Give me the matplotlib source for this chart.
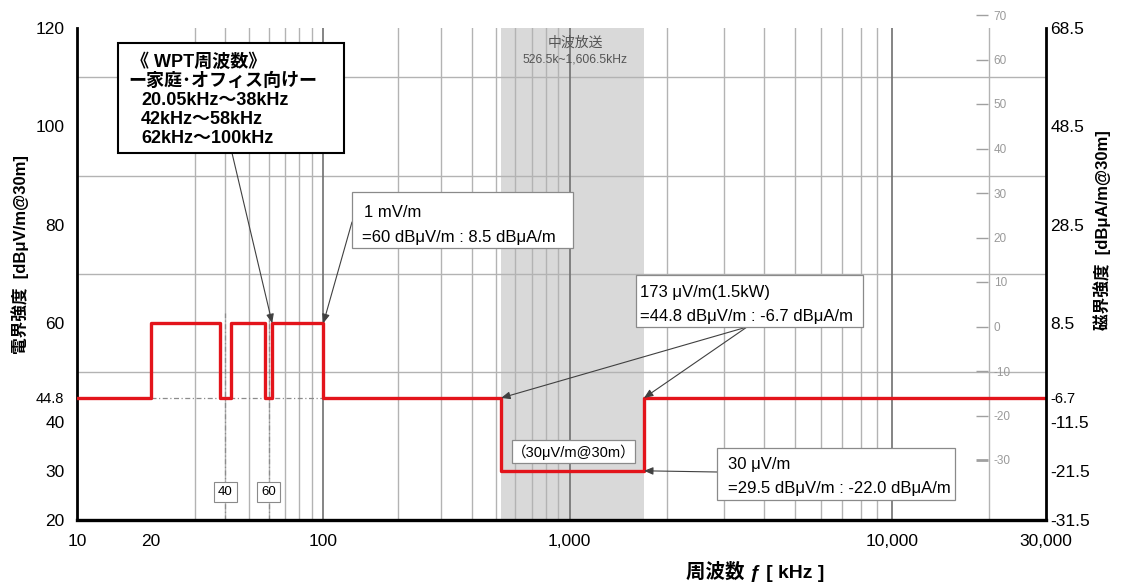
import numpy as np
import matplotlib
matplotlib.use("Agg")
import matplotlib.pyplot as plt
import matplotlib.transforms as mtransforms
from matplotlib.ticker import FixedLocator, FixedFormatter, NullFormatter
from matplotlib.patches import Rectangle

plt.rcParams['font.family'] = ['Liberation Sans', 'Noto Sans CJK JP']

# ---------------- data ----------------
step_edges_khz = [10, 20.05, 38, 42, 58, 62, 100, 526.5, 1700, 30000]
step_levels_db = [44.8, 60, 44.8, 60, 44.8, 60, 44.8, 30, 44.8, 44.8]
mw_band_khz = [526.5, 1700]
ref_level_db = 44.8
ref_span_khz = [20, 100]
wpt_marker_khz = [40, 60]
wpt_marker_labels = ['40', '60']
wpt_marker_top_db = 62
x_ticks = [10, 20, 100, 1000, 10000, 30000]
x_tick_labels = ['10', '20', '100', '1,000', '10,000', '30,000']
decade_lines = [100, 1000, 10000]
y_left_ticks = [20, 30, 40, 44.8, 60, 80, 100, 120]
y_left_labels = ['20', '30', '40', '44.8', '60', '80', '100', '120']
y_grid = list(range(20, 121, 10))
h_offset_db = 51.5  # dBuV/m -> dBuA/m
y_right_ticks = [-31.5, -21.5, -11.5, -6.7, 8.5, 28.5, 48.5, 68.5]
y_right_labels = ['-31.5', '-21.5', '-11.5', '-6.7', '8.5', '28.5', '48.5', '68.5']
aux_ticks = [-30, -20, -10, 0, 10, 20, 30, 40, 50, 60, 70]
aux_labels = [str(v) for v in aux_ticks]

wpt_target = (62, 60)
mv_target = (100, 60)
l173_targets = [(526.5, 44.8), (1700, 44.8)]
l30_target = (1700, 30)

wpt_lines = ['《 WPT周波数》', 'ー家庭･オフィス向けー', '20.05kHz～38kHz', '42kHz～58kHz', '62kHz～100kHz']
mv_lines = ['1 mV/m', '=60 dBμV/m : 8.5 dBμA/m']
l173_lines = ['173 μV/m(1.5kW)', '=44.8 dBμV/m : -6.7 dBμA/m']
l30_lines = ['30 μV/m', '=29.5 dBμV/m : -22.0 dBμA/m']
l30m_text = '（30μV/m@30m）'
mw_title = '中波放送'
mw_range = '526.5k~1,606.5kHz'

# ---------------- figure ----------------
W, H = 1132, 586
L, R, T, B = 77, 1046, 28, 520
fig = plt.figure(figsize=(W / 100, H / 100), dpi=100)
ax = fig.add_axes([L / W, 1 - B / H, (R - L) / W, (B - T) / H])

K = 322 / 246  # the reference stretches the decades above 1 MHz


def fwd(x):
    x = np.asarray(x, dtype=float)
    u = np.log10(np.where(x > 0, x, 1e-300))
    return np.where(u <= 3, u, 3 + (u - 3) * K)


def inv(t):
    t = np.asarray(t, dtype=float)
    return np.where(t <= 3, 10.0 ** t, 10.0 ** (3 + (t - 3) / K))


ax.set_xscale('function', functions=(fwd, inv))
ax.set_xlim(10, 30000)
ax.set_ylim(20, 120)

minor_x = [m * 10 ** d for d in range(1, 5) for m in range(1, 10)
           if 10 < m * 10 ** d < 30000 and m * 10 ** d not in decade_lines]
ax.xaxis.set_major_locator(FixedLocator(x_ticks))
ax.xaxis.set_major_formatter(FixedFormatter(x_tick_labels))
ax.xaxis.set_minor_locator(FixedLocator(minor_x))
ax.xaxis.set_minor_formatter(NullFormatter())
ax.yaxis.set_major_locator(FixedLocator(y_left_ticks))
ax.yaxis.set_major_formatter(FixedFormatter(y_left_labels))
ax.yaxis.set_minor_locator(FixedLocator(y_grid))
ax.yaxis.set_minor_formatter(NullFormatter())
ax.set_axisbelow(True)
ax.grid(False, which='major')
ax.grid(True, which='minor', color='#b3b3b3', lw=1.0)
for d in decade_lines:
    ax.axvline(d, color='#707070', lw=1.2, zorder=0.6)

ax.tick_params(which='both', length=0)
ax.tick_params(axis='x', which='major', labelsize=12.5, pad=10)
ax.tick_params(axis='y', which='major', labelsize=12.5, pad=9)
ax.yaxis.get_major_ticks()[3].label1.set_fontsize(10.5)

for s in ['top', 'right']:
    ax.spines[s].set_visible(False)
ax.spines['left'].set_linewidth(2)
ax.spines['bottom'].set_linewidth(2.4)

# right axis (magnetic field)
ax_r = ax.twinx()
ax_r.set_ylim(20 - h_offset_db, 120 - h_offset_db)
ax_r.yaxis.set_major_locator(FixedLocator(y_right_ticks))
ax_r.yaxis.set_major_formatter(FixedFormatter(y_right_labels))
ax_r.tick_params(length=0, labelsize=12.5, pad=3)
ax_r.yaxis.get_major_ticks()[3].label2.set_fontsize(10.5)
for s in ['top', 'left', 'bottom']:
    ax_r.spines[s].set_visible(False)
ax_r.spines['right'].set_linewidth(2)

# MW band shading
ax.axvspan(*mw_band_khz, color='#d9d9d9', lw=0, zorder=0.2)

# reference dash-dot lines
dd = (0, (4, 2, 1, 2))
ax.hlines(ref_level_db, *ref_span_khz, colors='#8c8c8c', linestyles=dd, lw=0.9, zorder=1)
ax.vlines(wpt_marker_khz, 20, wpt_marker_top_db, colors='#8c8c8c', linestyles=dd, lw=0.9, zorder=1)
btrans = mtransforms.blended_transform_factory(ax.transData, ax.transAxes)
for xv, lab in zip(wpt_marker_khz, wpt_marker_labels):
    ax.text(xv, (B - 492) / (B - T), lab, transform=btrans, ha='center', va='center',
            fontsize=9.5, zorder=6,
            bbox=dict(boxstyle='square,pad=0.3', fc='white', ec='#8a8a8a', lw=0.8))

# limit line
ax.step(step_edges_khz, step_levels_db, where='post', color='#e3141b', lw=2.4, zorder=4)


def ax_xy(px, py):
    return ((px - L) / (R - L), (B - py) / (B - T))


def box(x0, y0, x1, y1, ec='#8a8a8a', lw=0.9):
    ax.add_patch(Rectangle(ax_xy(x0, y1), (x1 - x0) / (R - L), (y1 - y0) / (B - T),
                           transform=ax.transAxes, fc='white', ec=ec, lw=lw, zorder=6))


def txt(px, py, s, **kw):
    kw.setdefault('ha', 'left')
    kw.setdefault('va', 'baseline')
    ax.text(*ax_xy(px, py), s, transform=ax.transAxes, zorder=7, **kw)


def arrow(target, px, py):
    ax.annotate('', xy=target, xycoords='data', xytext=ax_xy(px, py),
                textcoords='axes fraction', zorder=5,
                arrowprops=dict(arrowstyle='-|>,head_length=0.6,head_width=0.25',
                                color='#404040', lw=0.8, shrinkA=0, shrinkB=0,
                                mutation_scale=9))


# WPT box
box(118, 43, 344, 153, ec='black', lw=1.5)
for i, s in enumerate(wpt_lines):
    xoff = [131, 128, 141, 141, 141][i]
    txt(xoff, 67 + i * 19, s, fontsize=13, fontweight='bold')
arrow(wpt_target, 232, 153)

# 1 mV/m box
box(352, 192, 573, 248)
txt(364, 217, mv_lines[0], fontsize=12)
txt(362, 242, mv_lines[1], fontsize=12)
arrow(mv_target, 352, 222)

# 173 uV/m box
box(636, 275, 863, 327)
txt(640, 297, l173_lines[0], fontsize=12)
txt(640, 321, l173_lines[1], fontsize=12)
for tg in l173_targets:
    arrow(tg, 747, 327)

# 30 uV/m box
box(717, 448, 955, 500)
txt(728, 469, l30_lines[0], fontsize=12)
txt(728, 493, l30_lines[1], fontsize=12)
arrow(l30_target, 717, 472)

# (30uV/m@30m) box
box(512, 440, 635, 463)
txt(573.5, 452, l30m_text, fontsize=10.5, ha='center', va='center')

# MW broadcasting label
txt(575, 43, mw_title, fontsize=10, ha='center', va='center', color='#555555')
txt(575, 59, mw_range, fontsize=8.7, ha='center', va='center', color='#555555')

# auxiliary grey scale (as in the reference)
gax = fig.add_axes([988 / W, 1 - 460 / H, 1e-4, (460 - 15) / H])
gax.set_ylim(-30, 70)
gax.yaxis.set_major_locator(FixedLocator(aux_ticks))
gax.yaxis.set_major_formatter(FixedFormatter(aux_labels))
gax.yaxis.tick_right()
gax.set_xticks([])
gax.patch.set_visible(False)
for s in gax.spines.values():
    s.set_visible(False)
gax.tick_params(axis='y', direction='in', length=9, width=1, color='#a0a0a0',
                labelcolor='#9a9a9a', labelsize=8.5, pad=4)
t0 = gax.yaxis.get_major_ticks()[0]
t0.tick2line.set_color('black')
t0.tick2line.set_markeredgewidth(2)

# axis labels
ax.set_ylabel('電界強度  [dBμV/m@30m]', fontsize=12, fontweight='bold')
ax.yaxis.set_label_coords(*ax_xy(29, 255))
ax_r.set_ylabel('磁界強度  [dBμA/m@30m]', fontsize=12, fontweight='bold')
ax_r.yaxis.set_label_coords(*ax_xy(1093, 230))
ax.set_xlabel('周波数 ƒ [ kHz ]', fontsize=14, fontweight='bold')
ax.xaxis.set_label_coords(*ax_xy(755, 561))

fig.savefig('out.png', dpi=100)
